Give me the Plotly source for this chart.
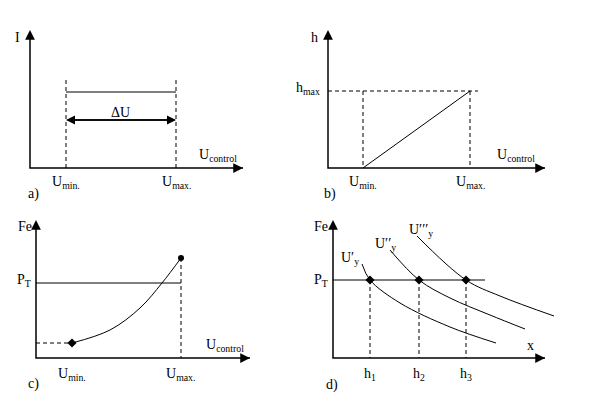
import plotly.graph_objects as go

# Schematic coordinates (x right, y down)
axes_frames = [(30, 168, 243, 30), (328, 168, 545, 30), (36, 358, 250, 220), (333, 358, 545, 220)]
dashed_segments = [
    ([66, 66], [80, 168]), ([176, 176], [80, 168]),
    ([363, 363], [91, 168]), ([470, 470], [91, 168]), ([328, 478], [91, 91]),
    ([181, 181], [258, 358]), ([36, 72], [343, 343]),
    ([370, 370], [280, 358]), ([419, 419], [280, 358]), ([466, 466], [280, 358]),
]
solid_segments = [
    ([66, 176], [92, 92]), ([363, 470], [168, 91]),
    ([36, 181], [283, 283]), ([333, 485], [280, 280]),
]
curve_c_x = [72, 110, 140, 162, 181]
curve_c_y = [343, 330, 308, 283, 258]
curves_d = [
    ([362, 370, 400, 450, 496], [264, 280, 303, 327, 343]),
    ([390, 419, 450, 490, 525], [250, 280, 298, 315, 329]),
    ([417, 466, 500, 554], [236, 280, 296, 316]),
]
cross_x = [370, 419, 466]
cross_y = [280, 280, 280]

labels = [
    (17, 37, "I"), (66, 182, "U<sub>min.</sub>"), (176, 182, "U<sub>max.</sub>"),
    (218, 155, "U<sub>control</sub>"), (120, 112, "ΔU"), (33, 194, "a)"),
    (314, 37, "h"), (308, 88, "h<sub>max</sub>"), (363, 182, "U<sub>min.</sub>"),
    (470, 182, "U<sub>max.</sub>"), (516, 155, "U<sub>control</sub>"), (330, 194, "b)"),
    (25, 226, "Fe"), (24, 280, "P<sub>T</sub>"), (72, 374, "U<sub>min.</sub>"),
    (180, 374, "U<sub>max.</sub>"), (225, 345, "U<sub>control</sub>"), (33, 384, "c)"),
    (321, 226, "Fe"), (321, 280, "P<sub>T</sub>"), (530, 345, "x"),
    (370, 374, "h<sub>1</sub>"), (419, 374, "h<sub>2</sub>"), (466, 374, "h<sub>3</sub>"),
    (332, 385, "d)"), (350, 258, "U′<sub>y</sub>"), (385, 244, "U′′<sub>y</sub>"),
    (421, 230, "U′′′<sub>y</sub>"),
]

FONT = "Liberation Serif, Times New Roman, serif"
DASH = "4px,3px"

fig = go.Figure()
ln = dict(color="black", width=1)
for xs, ys in dashed_segments:
    fig.add_trace(go.Scatter(x=xs, y=ys, mode="lines", line=dict(color="black", width=1, dash=DASH)))
for xs, ys in solid_segments:
    fig.add_trace(go.Scatter(x=xs, y=ys, mode="lines", line=ln))
for x0, y0, xe, yt in axes_frames:
    fig.add_trace(go.Scatter(x=[x0, x0, xe], y=[yt + 8, y0, y0], mode="lines", line=dict(color="black", width=1.5)))
    fig.add_annotation(x=x0, y=yt, ax=x0, ay=yt + 10, xref="x", yref="y", axref="x", ayref="y",
                       showarrow=True, arrowhead=2, arrowsize=1.3, arrowwidth=1.5, arrowcolor="black", text="")
    fig.add_annotation(x=xe, y=y0, ax=xe - 10, ay=y0, xref="x", yref="y", axref="x", ayref="y",
                       showarrow=True, arrowhead=2, arrowsize=1.3, arrowwidth=1.5, arrowcolor="black", text="")
for a, b in [(66, 176), (176, 66)]:
    fig.add_annotation(x=a, y=120, ax=b, ay=120, xref="x", yref="y", axref="x", ayref="y",
                       showarrow=True, arrowhead=2, arrowsize=1.2, arrowwidth=1.5, arrowcolor="black", text="")
fig.add_trace(go.Scatter(x=curve_c_x, y=curve_c_y, mode="lines", line=dict(color="black", width=1, shape="spline")))
fig.add_trace(go.Scatter(x=[curve_c_x[0]], y=[curve_c_y[0]], mode="markers", marker=dict(symbol="diamond", size=7, color="black")))
fig.add_trace(go.Scatter(x=[curve_c_x[-1]], y=[curve_c_y[-1]], mode="markers", marker=dict(size=6, color="black")))
for xs, ys in curves_d:
    fig.add_trace(go.Scatter(x=xs, y=ys, mode="lines", line=dict(color="black", width=1, shape="spline")))
fig.add_trace(go.Scatter(x=cross_x, y=cross_y, mode="markers", marker=dict(symbol="diamond", size=7, color="black")))
for x, y, t in labels:
    fig.add_annotation(x=x, y=y, text=t, showarrow=False, xref="x", yref="y",
                       font=dict(family=FONT, size=14, color="black"))

fig.update_layout(width=600, height=406, margin=dict(l=0, r=0, t=0, b=0), showlegend=False,
                  plot_bgcolor="white", paper_bgcolor="white", font=dict(family=FONT),
                  xaxis=dict(range=[8, 608], visible=False, fixedrange=True),
                  yaxis=dict(range=[414, 8], visible=False, fixedrange=True))
fig.write_html("out.html")
